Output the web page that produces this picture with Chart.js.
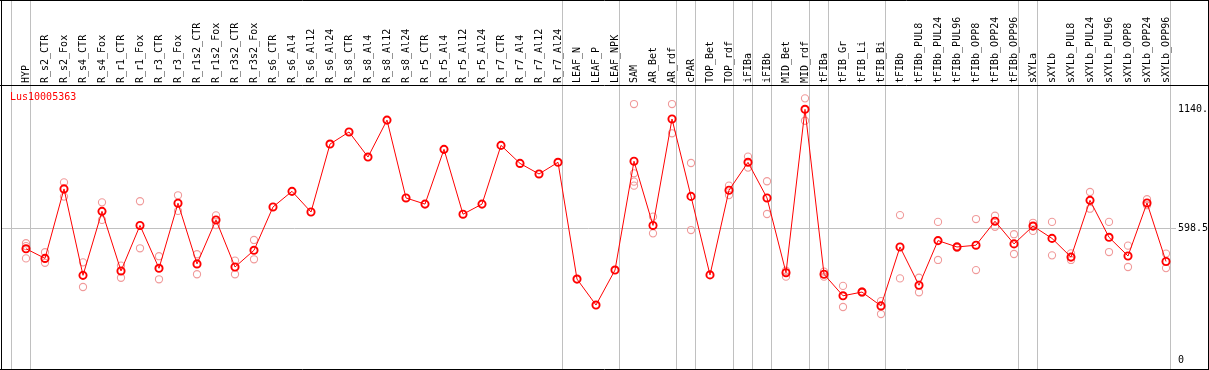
<!DOCTYPE html>
<html>
<head>
<meta charset="utf-8">
<script src="https://cdn.jsdelivr.net/npm/chart.js@4/dist/chart.umd.min.js"></script>
<style>
  html, body { margin: 0; padding: 0; background: #fff; }
  #wrap { width: 1209px; height: 370px; }
</style>
</head>
<body>
<div id="wrap"><canvas id="c" width="1209" height="370"></canvas></div>
<script>
const geneName = "Lus10005363";

const categories = ["HYP","R_s2_CTR","R_s2_Fox","R_s4_CTR","R_s4_Fox","R_r1_CTR","R_r1_Fox","R_r3_CTR","R_r3_Fox",
  "R_r1s2_CTR","R_r1s2_Fox","R_r3s2_CTR","R_r3s2_Fox","R_s6_CTR","R_s6_Al4","R_s6_Al12","R_s6_Al24",
  "R_s8_CTR","R_s8_Al4","R_s8_Al12","R_s8_Al24","R_r5_CTR","R_r5_Al4","R_r5_Al12","R_r5_Al24",
  "R_r7_CTR","R_r7_Al4","R_r7_Al12","R_r7_Al24","LEAF_N","LEAF_P","LEAF_NPK","SAM","AR_Bet","AR_rdf",
  "cPAR","TOP_Bet","TOP_rdf","iFIBa","iFIBb","MID_Bet","MID_rdf","tFIBa","tFIB_Gr","tFIB_Li","tFIB_Bi",
  "tFIBb","tFIBb_PUL8","tFIBb_PUL24","tFIBb_PUL96","tFIBb_OPP8","tFIBb_OPP24","tFIBb_OPP96",
  "sXYLa","sXYLb","sXYLb_PUL8","sXYLb_PUL24","sXYLb_PUL96","sXYLb_OPP8","sXYLb_OPP24","sXYLb_OPP96"];

const meanValues = [506,462,778,385,676,405,612,417,713,437,637,423,499,696,767,673,982,1037,923,1091,
  737,709,958,663,709,976,894,846,899,368,250,409,904,612,1096,744,387,772,899,737,397,1140,
  390,292,309,246,514,340,543,514,522,631,528,609,553,468,726,558,473,714,448];

const rep1 = [531,490,808,444,717,429,722,472,749,481,658,452,546,null,null,null,null,null,null,null,
  null,null,null,null,null,null,null,null,null,null,null,null,1164,652,1164,896,null,793,925,813,406,1190,
  402,337,312,268,659,374,628,518,641,656,572,624,628,485,764,628,520,731,484];
const rep2 = [518,442,743,332,637,374,508,367,678,390,614,390,458,null,null,null,null,null,null,null,
  null,null,null,null,null,null,null,null,null,null,null,null,849,576,1031,591,null,750,875,664,379,1088,
  379,241,306,209,371,308,455,510,409,606,482,587,476,455,688,491,423,704,418];
const rep3 = [462,null,null,null,null,null,null,null,null,null,null,null,null,null,null,null,null,null,null,null,
  null,null,null,null,null,null,null,null,null,null,null,null,811,null,null,null,null,null,null,null,null,null,
  null,null,null,null,null,null,null,null,null,null,null,null,null,null,null,null,null,null,null];
const rep4 = [null,null,null,null,null,null,null,null,null,null,null,null,null,null,null,null,null,null,null,null,
  null,null,null,null,null,null,null,null,null,null,null,null,793,null,null,null,null,null,null,null,null,null,
  null,null,null,null,null,null,null,null,null,null,null,null,null,null,null,null,null,null,null];

// index of last category in each group (-1 = left edge)
const groupEnds = [-1,0,28,31,34,35,37,38,39,41,42,45,52,53,60];

const yTickValues = [0, 598.5, 1140];
const yTickLabels = ["0", "598.5", "1140."];

const meanPoints = meanValues.map((v, i) => ({x: i, y: v}));
const repPoints = [];
[rep1, rep2, rep3, rep4].forEach(arr => arr.forEach((v, i) => { if (v !== null) repPoints.push({x: i, y: v}); }));

const MONO = '"DejaVu Sans Mono", "Liberation Mono", monospace';

const framePlugin = {
  id: 'frame',
  beforeDatasetsDraw(chart) {
    const ctx = chart.ctx, xs = chart.scales.x, ca = chart.chartArea;
    ctx.save();
    ctx.strokeStyle = '#c0c0c0';
    ctx.lineWidth = 1;
    groupEnds.forEach(g => {
      const px = Math.round(xs.getPixelForValue(g + 0.235)) + 0.5;
      ctx.beginPath();
      ctx.moveTo(px, 0);
      ctx.lineTo(px, ca.bottom);
      ctx.stroke();
    });
    ctx.restore();
  },
  afterDraw(chart) {
    const ctx = chart.ctx, ca = chart.chartArea;
    const W = chart.width, H = chart.height;
    ctx.save();
    ctx.strokeStyle = '#000';
    ctx.lineWidth = 1;
    ctx.beginPath();
    ctx.moveTo(0, 0.5); ctx.lineTo(W, 0.5);
    ctx.moveTo(0, ca.top + 0.5); ctx.lineTo(W, ca.top + 0.5);
    ctx.moveTo(0, H - 0.5); ctx.lineTo(W, H - 0.5);
    ctx.moveTo(1.5, 0); ctx.lineTo(1.5, H);
    ctx.moveTo(W - 0.5, 0); ctx.lineTo(W - 0.5, H);
    ctx.stroke();
    ctx.fillStyle = '#ff0000';
    ctx.font = '10px ' + MONO;
    ctx.textBaseline = 'middle';
    ctx.textAlign = 'left';
    ctx.fillText(geneName, 10, ca.top + 12);
    ctx.restore();
  }
};

new Chart(document.getElementById('c'), {
  data: {
    datasets: [
      {
        type: 'line',
        label: 'mean',
        data: meanPoints,
        borderColor: '#ff0000',
        borderWidth: 1,
        tension: 0,
        pointRadius: 3.6,
        pointBorderWidth: 1.9,
        pointBorderColor: '#ff0000',
        pointBackgroundColor: 'rgba(0,0,0,0)',
        fill: false
      },
      {
        type: 'scatter',
        label: 'replicates',
        data: repPoints,
        showLine: false,
        pointRadius: 3.6,
        pointBorderWidth: 1.1,
        pointBorderColor: '#f09a9a',
        pointBackgroundColor: 'rgba(0,0,0,0)'
      }
    ]
  },
  plugins: [framePlugin],
  options: {
    responsive: false,
    animation: false,
    events: [],
    layout: { autoPadding: false, padding: { left: 1, top: 0, right: 0, bottom: 1 } },
    plugins: { legend: { display: false }, tooltip: { enabled: false }, title: { display: false } },
    scales: {
      x: {
        type: 'linear',
        position: 'top',
        min: -1.3158,
        max: 60.526,
        afterBuildTicks: s => { s.ticks = categories.map((c, i) => ({value: i})); },
        afterFit: s => { s.height = 85; s.paddingLeft = 0; s.paddingRight = 0; },
        grid: { display: false, drawTicks: false },
        border: { display: false },
        ticks: {
          autoSkip: false,
          minRotation: 90,
          maxRotation: 90,
          padding: 2,
          labelOffset: 12,
          color: '#000',
          font: { family: MONO, size: 10 },
          callback: v => categories[v]
        }
      },
      y: {
        type: 'linear',
        position: 'right',
        min: -40.9,
        max: 1250.6,
        afterBuildTicks: s => { s.ticks = yTickValues.map(v => ({value: v})); },
        afterFit: s => { s.width = 33; s.paddingTop = 0; s.paddingBottom = 0; },
        border: { display: false },
        grid: {
          drawTicks: false,
          color: ctx => (ctx.tick && ctx.tick.value === 598.5) ? '#c0c0c0' : 'rgba(0,0,0,0)',
          lineWidth: 1
        },
        ticks: {
          padding: 2,
          color: '#000',
          font: { family: MONO, size: 10 },
          callback: (v) => { const k = yTickValues.indexOf(v); return k >= 0 ? yTickLabels[k] : ''; }
        }
      }
    }
  }
});
</script>
</body>
</html>
